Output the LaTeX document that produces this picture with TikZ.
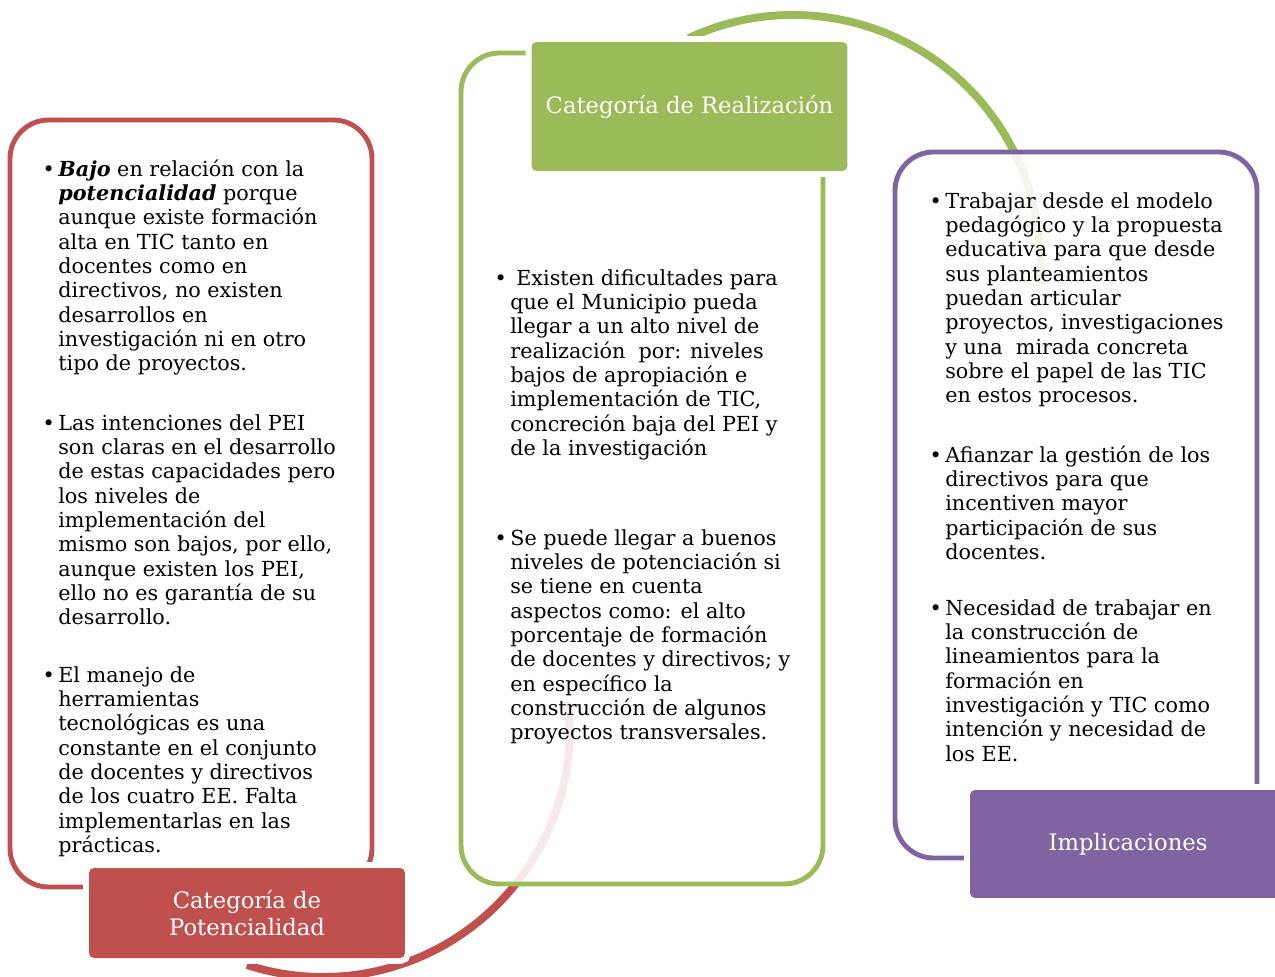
\documentclass[tikz,border=0pt]{standalone}
\usepackage{fontspec}
\setmainfont{DejaVu Serif}
\usetikzlibrary{arrows.meta}
\definecolor{PotClr}{HTML}{C0504D}
\definecolor{RealClr}{HTML}{9BBB59}
\definecolor{ImpClr}{HTML}{8064A2}
\newcommand{\bala}{\rule{0pt}{10pt}\llap{\textbullet\hspace{2pt}}}

\begin{document}
\begin{tikzpicture}[x=0.02cm,y=-0.02cm,
  marco/.style={draw=#1,line width=2.8pt,rounded corners=22pt,fill=white,fill opacity=0.88},
  arco/.style={draw=#1,line width=4.5pt,-{Triangle[length=4pt,width=8pt]}},
  etiqueta/.style={fill=#1,preaction={draw=white,line width=6.8pt},rounded corners=2.8pt,
    text=white,align=center,inner sep=0pt,minimum width=6.32cm,
    font=\fontsize{12.9pt}{15.3pt}\selectfont},
  punto/.style={anchor=north west,align=left,inner sep=0pt,
    font=\fontsize{11.8pt}{13.83pt}\selectfont}]
\useasboundingbox (0,0) rectangle (1275,977);

% centros de las flechas curvas
\coordinate (cRoja) at (323,731);
\coordinate (cVerde) at (793,262);
\draw[arco=PotClr] (cRoja) ++(108:246) arc[start angle=108,end angle=-7,radius=246];
\draw[arco=RealClr] (cVerde) ++(-115:247) arc[start angle=-115,end angle=6,radius=247];

% marcos
\draw[marco=PotClr] (10,120) rectangle (372,887);
\draw[marco=RealClr] (461,53) rectangle (823,884);
\draw[marco=ImpClr] (895,152) rectangle (1257,858);

% etiquetas
\node[etiqueta=PotClr,minimum height=1.8cm] (pot) at (247,913) {Categoría de\\Potencialidad};
\node[etiqueta=RealClr,minimum height=2.58cm] (real) at (689.5,106.5) {Categoría de Realización};
\node[etiqueta=ImpClr,minimum height=2.16cm] (imp) at (1128,844) {Implicaciones};

% textos
\node[punto] (pot1) at (58,158.4) {\bala\textbf{\textit{Bajo}} en relación con la\\
  \textbf{\textit{potencialidad}} porque\\ aunque existe formación\\ alta en TIC tanto en\\
  docentes como en\\ directivos, no existen\\ desarrollos en\\
  investigación ni en otro\\ tipo de proyectos.};
\node[punto] (pot2) at (58,412.4) {\bala Las intenciones del PEI\\ son claras en el desarrollo\\
  de estas capacidades pero\\ los niveles de\\ implementación del\\
  mismo son bajos, por ello,\\ aunque existen los PEI,\\ ello no es garantía de su\\ desarrollo.};
\node[punto] (pot3) at (58,664.4) {\bala El manejo de\\ herramientas\\ tecnológicas es una\\
  constante en el conjunto\\ de docentes y directivos\\ de los cuatro EE. Falta\\
  implementarlas en las\\ prácticas.};

\node[punto] (real1) at (510,267.4) {\bala\hspace{3.4pt}Existen dificultades para\\
  que el Municipio pueda\\ llegar a un alto nivel de\\ realización\ \ por: niveles\\
  bajos de apropiación e\\ implementación de TIC,\\ concreción baja del PEI y\\ de la investigación};
\node[punto] (real2) at (510,527.4) {\bala Se puede llegar a buenos\\ niveles de potenciación si\\
  se tiene en cuenta\\ aspectos como: el alto\\ porcentaje de formación\\
  de docentes y directivos; y\\ en específico la\\ construcción de algunos\\ proyectos transversales.};

\node[punto] (imp1) at (945,190.4) {\bala Trabajar desde el modelo\\ pedagógico y la propuesta\\
  educativa para que desde\\ sus planteamientos\\ puedan articular\\
  proyectos, investigaciones\\ y una\ \ mirada concreta\\ sobre el papel de las TIC\\ en estos procesos.};
\node[punto] (imp2) at (945,444.4) {\bala Afianzar la gestión de los\\ directivos para que\\
  incentiven mayor\\ participación de sus\\ docentes.};
\node[punto] (imp3) at (945,597.4) {\bala Necesidad de trabajar en\\ la construcción de\\
  lineamientos para la\\ formación en\\ investigación y TIC como\\
  intención y necesidad de\\ los EE.};
\end{tikzpicture}
\end{document}
